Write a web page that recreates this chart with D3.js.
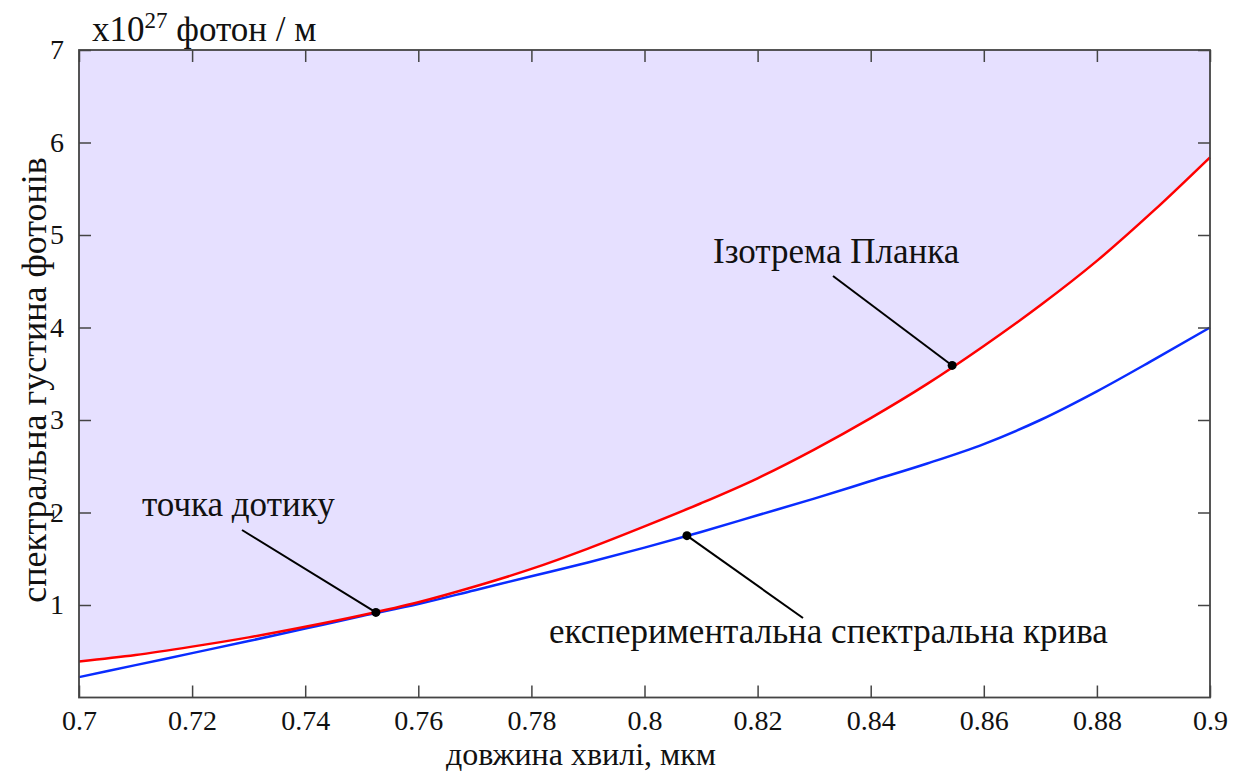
<!DOCTYPE html>
<html>

<head>
    <meta charset="UTF-8">
    <style>
        body { margin: 0; background: #fff; }
        svg text { font-family: "Liberation Serif", "Times New Roman", Times, "Nimbus Roman", "DejaVu Serif", "Noto Serif", serif; fill: #111; }
    </style>
</head>

<body>
    <svg></svg>
    <script src="https://d3js.org/d3.v7.min.js"></script>
    <script>

        let width = 1241, height = 771;

        // wavelength, um
        const wavelength = [0.70, 0.71, 0.72, 0.73, 0.74, 0.75, 0.76, 0.77, 0.78, 0.79, 0.80,
            0.81, 0.82, 0.83, 0.84, 0.85, 0.86, 0.87, 0.88, 0.89, 0.90];
        // Planck isotherm (x10^27)
        const planck = [0.39, 0.46, 0.55, 0.65, 0.765, 0.89, 1.03, 1.20, 1.39, 1.61, 1.85,
            2.10, 2.37, 2.68, 3.02, 3.39, 3.80, 4.24, 4.72, 5.26, 5.84];
        // experimental spectral curve
        const experiment = [0.22, 0.35, 0.48, 0.61, 0.745, 0.88, 1.01, 1.16, 1.31, 1.46, 1.62,
            1.79, 1.97, 2.15, 2.34, 2.53, 2.74, 3.00, 3.31, 3.65, 4.00];

        const xTicks = [0.7, 0.72, 0.74, 0.76, 0.78, 0.8, 0.82, 0.84, 0.86, 0.88, 0.9];
        const yTicks = [1, 2, 3, 4, 5, 6, 7];

        // annotated points
        const touchPoint = [0.7525, 0.92];
        const expPoint = [0.8075, 1.75];
        const planckPoint = [0.8544, 3.59];

        let svg = d3.select("svg")
            .attr("width", width)
            .attr("height", height)
            .attr("font-family", "Liberation Serif, serif")

        let x = d3.scaleLinear().domain([0.7, 0.9]).range([79, 1210]);
        let y = d3.scaleLinear().domain([0, 7]).range([697.5, 50]);

        let redData = wavelength.map((w, i) => [w, planck[i]]);
        let blueData = wavelength.map((w, i) => [w, experiment[i]]);

        // shaded region above the Planck curve
        svg.append("path")
            .datum(redData)
            .attr("fill", "#e6e0ff")
            .attr("d", d3.area()
                .x(d => x(d[0]))
                .y0(y(7))
                .y1(d => y(d[1]))
                .curve(d3.curveMonotoneX));

        let line = d3.line()
            .x(d => x(d[0]))
            .y(d => y(d[1]))
            .curve(d3.curveMonotoneX);

        svg.append("path")
            .datum(blueData)
            .attr("fill", "none")
            .attr("stroke", "#0a2cff")
            .attr("stroke-width", 2.5)
            .attr("d", line);

        svg.append("path")
            .datum(redData)
            .attr("fill", "none")
            .attr("stroke", "#ff0000")
            .attr("stroke-width", 2.5)
            .attr("d", line);

        // axes with inward ticks
        svg.append("g")
            .attr("transform", "translate(0," + y(0) + ")")
            .call(d3.axisBottom(x).tickValues(xTicks).tickFormat(d3.format("")).tickSizeInner(-12).tickSizeOuter(0).tickPadding(13));

        svg.append("g")
            .attr("transform", "translate(0," + y(7) + ")")
            .call(d3.axisTop(x).tickValues(xTicks).tickFormat("").tickSizeInner(-12).tickSizeOuter(0));

        svg.append("g")
            .attr("transform", "translate(" + x(0.7) + ",0)")
            .call(d3.axisLeft(y).tickValues(yTicks).tickFormat(d3.format("d")).tickSizeInner(-12).tickSizeOuter(0).tickPadding(15));

        svg.append("g")
            .attr("transform", "translate(" + x(0.9) + ",0)")
            .call(d3.axisRight(y).tickValues(yTicks).tickFormat("").tickSizeInner(-12).tickSizeOuter(0));

        svg.selectAll(".domain").remove();
        svg.selectAll(".tick line").attr("stroke", "#444").attr("stroke-width", 1.5);
        svg.selectAll(".tick text")
            .style("font-size", "28px")
            .attr("fill", "#111");

        svg.append("rect")
            .attr("x", x(0.7))
            .attr("y", y(7))
            .attr("width", x(0.9) - x(0.7))
            .attr("height", y(0) - y(7))
            .attr("fill", "none")
            .attr("stroke", "#444")
            .attr("stroke-width", 1.8);

        // annotation leaders
        let leaders = [
            [242, 530, touchPoint],
            [803, 618, expPoint],
            [833, 276, planckPoint]
        ];
        svg.selectAll(".leader")
            .data(leaders)
            .enter()
            .append("line")
            .attr("x1", d => d[0])
            .attr("y1", d => d[1])
            .attr("x2", d => x(d[2][0]))
            .attr("y2", d => y(d[2][1]))
            .attr("stroke", "#000")
            .attr("stroke-width", 2);

        svg.selectAll(".dot")
            .data([touchPoint, expPoint, planckPoint])
            .enter()
            .append("circle")
            .attr("cx", d => x(d[0]))
            .attr("cy", d => y(d[1]))
            .attr("r", 4.5)
            .attr("fill", "#000");

        let labels = [
            { t: "точка дотику", x: 142, y: 516 },
            { t: "Ізотрема Планка", x: 713, y: 263 },
            { t: "експериментальна спектральна крива", x: 549, y: 643 }
        ];
        svg.selectAll(".lab")
            .data(labels)
            .enter()
            .append("text")
            .attr("x", d => d.x)
            .attr("y", d => d.y)
            .style("font-size", "35px")
            .text(d => d.t);

        // axis titles
        svg.append("text")
            .attr("x", 581)
            .attr("y", 765)
            .attr("text-anchor", "middle")
            .style("font-size", "32px")
            .text("довжина хвилі, мкм");

        svg.append("text")
            .attr("transform", "translate(46,380) rotate(-90)")
            .attr("text-anchor", "middle")
            .style("font-size", "36px")
            .text("спектральна густина фотонів");

        let unit = svg.append("text")
            .attr("x", 92)
            .attr("y", 41)
            .style("font-size", "35px");
        unit.append("tspan").text("x10");
        unit.append("tspan").attr("dy", -13).style("font-size", "23px").text("27");
        unit.append("tspan").attr("dy", 13).text(" фотон / м");

    </script>
</body>

</html>
